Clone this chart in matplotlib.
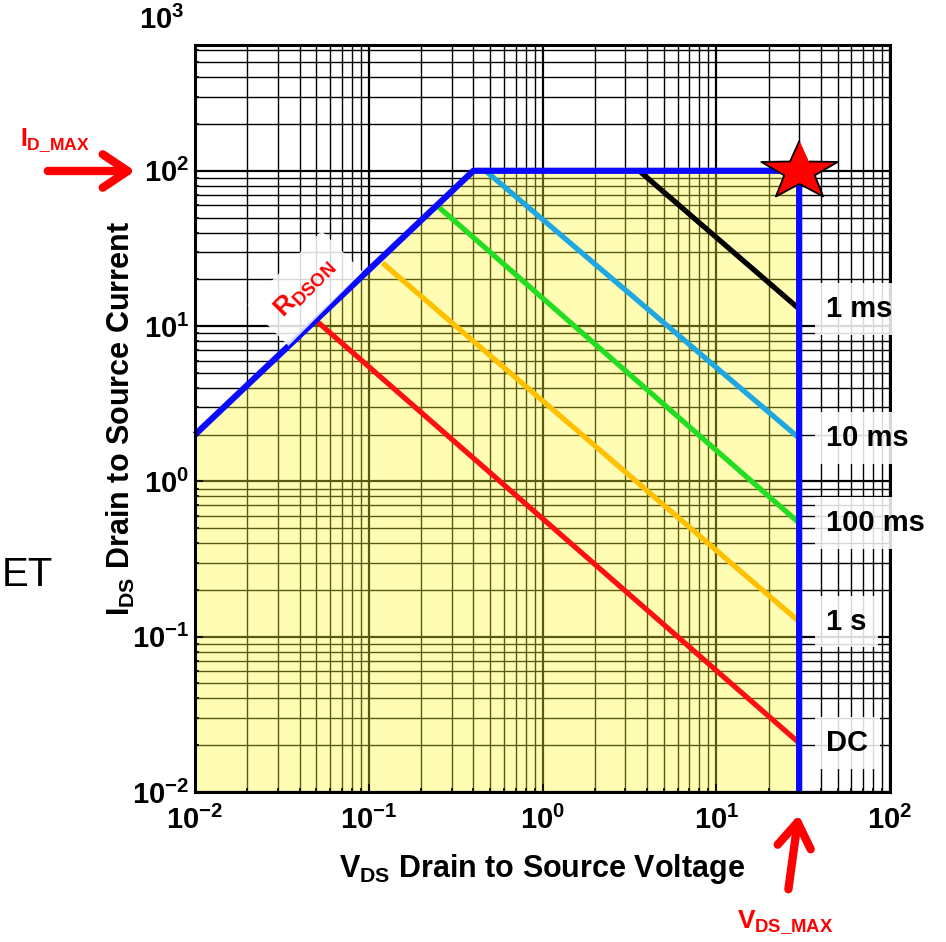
import numpy as np
import matplotlib
matplotlib.use('Agg')
import matplotlib.pyplot as plt
from matplotlib.patches import FancyArrowPatch

plt.rcParams['font.family'] = ['Liberation Sans', 'DejaVu Sans']
plt.rcParams['font.weight'] = 'bold'
plt.rcParams['mathtext.fontset'] = 'custom'
plt.rcParams['mathtext.rm'] = 'Liberation Sans:bold'
plt.rcParams['mathtext.it'] = 'Liberation Sans:bold'
plt.rcParams['mathtext.bf'] = 'Liberation Sans:bold'

# --- data ---
vds_max = 30.0
id_max = 100.0
# RDSON limit line: (V, I) points
rdson_v = [0.01, 0.40]
rdson_i = [2.0, 100.0]

# pulse-width limit lines: start (V, I) and end current at VDS_MAX
pulse_labels = ['1 ms', '10 ms', '100 ms', '1 s', 'DC']
pulse_colors = ['black', '#1ea7e1', '#22dd22', '#ffc000', '#ff1010']
pulse_v_start = [3.6, 0.47, 0.25, 0.12, 0.05]
pulse_i_start = [100.0, 100.0, 59.0, 25.5, 10.8]
pulse_i_end = [12.9, 1.9, 0.54, 0.125, 0.0207]

W, H = 946, 942
fig = plt.figure(figsize=(W / 100, H / 100), dpi=100)
ax = fig.add_axes([195 / W, (H - 792) / H, 695 / W, 747 / H])
ax.set_xscale('log')
ax.set_yscale('log')
ax.set_xlim(1e-2, 1e2)
ax.set_ylim(1e-2, 10 ** 2.81)

# grid positions
major_x = [10.0 ** k for k in range(-2, 3)]
major_y = [10.0 ** k for k in range(-2, 3)]
minor_x = [m * 10.0 ** k for k in range(-2, 2) for m in range(2, 10)]
minor_y = [m * 10.0 ** k for k in range(-2, 3) for m in range(2, 10)]
minor_y = [v for v in minor_y if v < 10 ** 2.81]

for x in major_x:
    ax.axvline(x, color='black', lw=1.6, zorder=0.5)
for x in minor_x:
    ax.axvline(x, color='black', lw=1.0, zorder=0.5)
for y in major_y:
    ax.axhline(y, color='black', lw=1.6, zorder=0.5)
for y in minor_y:
    ax.axhline(y, color='black', lw=1.0, zorder=0.5)

# safe operating area (yellow)
soa_v = [rdson_v[0], rdson_v[1], vds_max, vds_max, rdson_v[0]]
soa_i = [rdson_i[0], id_max, id_max, 1e-2, 1e-2]
poly = ax.fill(soa_v, soa_i, color='#fffdb3', zorder=1, lw=0)[0]

olive = '#5b5a12'
for x in major_x:
    ax.axvline(x, color=olive, lw=1.6, zorder=1.5).set_clip_path(poly)
for x in minor_x:
    ax.axvline(x, color=olive, lw=1.0, zorder=1.5).set_clip_path(poly)
for y in major_y:
    ax.axhline(y, color=olive, lw=1.6, zorder=1.5).set_clip_path(poly)
for y in minor_y:
    ax.axhline(y, color=olive, lw=1.0, zorder=1.5).set_clip_path(poly)

# pulse lines
for lab, c, v0, i0, i1 in zip(pulse_labels, pulse_colors, pulse_v_start,
                              pulse_i_start, pulse_i_end):
    ax.plot([v0, vds_max], [i0, i1], color=c, lw=3.8, zorder=3,
            solid_capstyle='butt')
    ax.text(43, i1, lab, fontsize=21, fontweight='bold', ha='left',
            va='center', zorder=6, clip_on=False,
            bbox=dict(boxstyle='square,pad=0.4', fc='white', ec='none',
                      alpha=0.85))

# boundary (blue)
ax.plot(soa_v[:4], soa_i[:4], color='#0a0aff', lw=4.5, zorder=4,
        solid_capstyle='butt', clip_on=False)

# star at (VDS_MAX, ID_MAX)
t = np.linspace(np.pi / 2, np.pi / 2 + 2 * np.pi, 11)[:-1]
r = np.where(np.arange(10) % 2 == 0, 1.0, 0.40)
star = np.column_stack([1.3 * r * np.cos(t), r * np.sin(t)])
ax.plot(vds_max, id_max, marker=star, ms=55, mfc='#ff0000', mec='black',
        mew=1.3, zorder=7, clip_on=False)

# RDSON label
ax.text(0.043, 17.5, r'$R_{DSON}$', color='red', fontsize=19, rotation=45,
        ha='center', va='center', zorder=5,
        bbox=dict(boxstyle='square,pad=0.6', fc='white', ec='none',
                  alpha=0.85))

# axes styling
for s in ax.spines.values():
    s.set_linewidth(2.2)
    s.set_zorder(5)
ax.tick_params(which='both', direction='in', labelsize=21, width=1.2)
ax.tick_params(which='major', length=6)
ax.tick_params(which='minor', length=3)
ax.tick_params(axis='x', which='major', pad=10)
ax.tick_params(axis='y', which='major', pad=4)
ax.set_xticks(major_x)
ax.set_yticks(major_y)
ax.set_xlabel(r'$V_{DS}$ Drain to Source Voltage', fontsize=22,
              fontweight='bold', labelpad=12)
ax.set_ylabel(r'$I_{DS}$ Drain to Source Current', fontsize=22,
              fontweight='bold')
ax.yaxis.set_label_coords(-0.084, 0.5)

# the 10^3 label sits above the cut plot box
fig.text(162 / W, 1 - 20 / H, r'$10^3$', fontsize=21, ha='center',
         va='center')

# annotations
fig.text(55 / W, 1 - 140 / H, r'$I_{D\_MAX}$', color='red', fontsize=18,
         ha='center', va='center')
fig.add_artist(FancyArrowPatch(
    (45 / W, 1 - 171 / H), (138 / W, 1 - 171 / H), transform=fig.transFigure,
    arrowstyle='->,head_length=0.6,head_width=0.4', lw=6, color='red',
    mutation_scale=30, capstyle='round', joinstyle='round'))
fig.text(785 / W, 1 - 922 / H, r'$V_{DS\_MAX}$', color='red', fontsize=19,
         ha='center', va='center')
fig.add_artist(FancyArrowPatch(
    (788 / W, 1 - 892 / H), (799 / W, 1 - 812 / H), transform=fig.transFigure,
    arrowstyle='->,head_length=0.6,head_width=0.4', lw=6, color='red',
    mutation_scale=30, capstyle='round', joinstyle='round'))

fig.text(2 / W, 1 - 575 / H, 'ET', fontsize=29, fontweight='normal',
         ha='left', va='center')

fig.savefig('out.png', dpi=100)
